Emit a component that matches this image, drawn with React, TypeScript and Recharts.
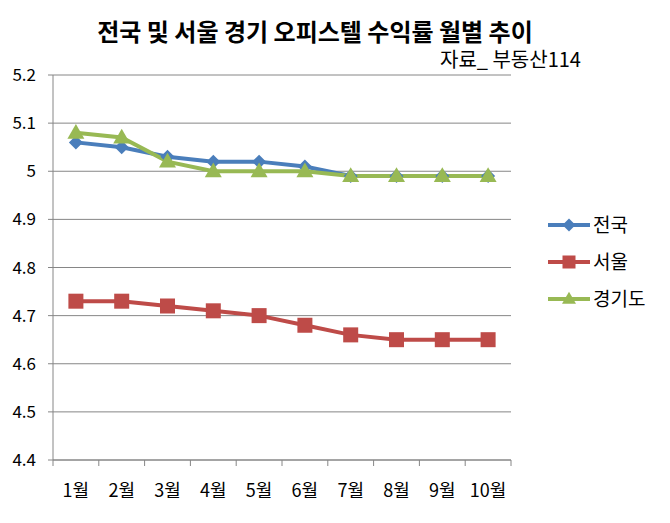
import { CartesianGrid, Line, LineChart, XAxis, YAxis } from "recharts";

const months = ["1월", "2월", "3월", "4월", "5월", "6월", "7월", "8월", "9월", "10월"];
const national = [5.06, 5.05, 5.03, 5.02, 5.02, 5.01, 4.99, 4.99, 4.99, 4.99];
const seoul = [4.73, 4.73, 4.72, 4.71, 4.70, 4.68, 4.66, 4.65, 4.65, 4.65];
const gyeonggi = [5.08, 5.07, 5.02, 5.0, 5.0, 5.0, 4.99, 4.99, 4.99, 4.99];
const yTicks = [4.4, 4.5, 4.6, 4.7, 4.8, 4.9, 5, 5.1, 5.2];

const BLUE = "#4A7EBB";
const RED = "#BE4B48";
const GREEN = "#98B954";
const FONT = "'Noto Sans CJK KR', 'Noto Sans', sans-serif";

const data = months.map((m, i) => ({ month: m, 전국: national[i], 서울: seoul[i], 경기도: gyeonggi[i] }));

const W = 670;
const H = 523;
const X_H = 30;
const M = { top: 75, right: 159, bottom: 63 - X_H, left: 0 };
const Y_W = 53;
const HALF_BAND = (W - M.left - M.right - Y_W) / months.length / 2;

// marker size is passed as "size" because recharts overrides "r" on dots
function Diamond({ cx, cy, fill, size = 14 }: any) {
  if (cx == null || cy == null) return null;
  const r = size / 2;
  return <path d={`M${cx},${cy - r}L${cx + r},${cy}L${cx},${cy + r}L${cx - r},${cy}Z`} fill={fill} />;
}
function Square({ cx, cy, fill, size = 15 }: any) {
  if (cx == null || cy == null) return null;
  return <rect x={cx - size / 2} y={cy - size / 2} width={size} height={size} fill={fill} />;
}
function Triangle({ cx, cy, fill, size = 17 }: any) {
  if (cx == null || cy == null) return null;
  const h = size * 0.87;
  return <path d={`M${cx},${cy - h * 0.6}L${cx + size / 2},${cy + h * 0.4}L${cx - size / 2},${cy + h * 0.4}Z`} fill={fill} />;
}

function MonthTick({ x, y, payload, index }: any) {
  const last = index === months.length - 1;
  return (
    <g>
      <line x1={x - HALF_BAND} x2={x - HALF_BAND} y1={y} y2={y + 6} stroke="#868686" />
      {last && <line x1={x + HALF_BAND} x2={x + HALF_BAND} y1={y} y2={y + 6} stroke="#868686" />}
      <text x={x} y={y + 37} textAnchor="middle" fontSize={18} fill="#000" fontFamily={FONT}>
        {payload.value}
      </text>
    </g>
  );
}

const legendItems = [
  { name: "전국", color: BLUE, Mark: Diamond, size: 13 },
  { name: "서울", color: RED, Mark: Square, size: 13 },
  { name: "경기도", color: GREEN, Mark: Triangle, size: 14 },
];

function LegendBox() {
  return (
    <svg width={130} height={110} style={{ position: "absolute", left: 540, top: 208 }}>
      {legendItems.map((it, i) => {
        const cy = 17 + i * 37;
        const Mk = it.Mark;
        return (
          <g key={it.name}>
            <line x1={8} x2={50} y1={cy} y2={cy} stroke={it.color} strokeWidth={4} />
            <Mk cx={29} cy={cy} fill={it.color} size={it.size} />
            <text x={53} y={cy + 7} fontSize={19} fill="#000" fontFamily={FONT}>
              {it.name}
            </text>
          </g>
        );
      })}
    </svg>
  );
}

export default function App() {
  return (
    <div style={{ position: "absolute", left: 0, top: 0, width: W, height: H, background: "#fff", fontFamily: FONT }}>
      <div style={{ position: "absolute", left: 0, top: 16, width: 630, textAlign: "center", fontSize: 24, fontWeight: "bold", lineHeight: "30px" }}>
        전국 및 서울 경기 오피스텔 수익률 월별 추이
      </div>
      <div style={{ position: "absolute", left: 440, top: 46, fontSize: 20, lineHeight: "26px", color: "#000" }}>
        자료_ 부동산114
      </div>
      <LineChart width={W} height={H} data={data} margin={M}>
        <CartesianGrid horizontal vertical={false} stroke="#868686" />
        <XAxis
          dataKey="month"
          height={X_H}
          tickLine={false}
          tickSize={0}
          tickMargin={0}
          stroke="#868686"
          tick={<MonthTick />}
          interval={0}
          padding={{ left: HALF_BAND, right: HALF_BAND }}
        />
        <YAxis
          domain={[4.4, 5.2]}
          ticks={yTicks}
          width={Y_W}
          stroke="#868686"
          tickSize={5}
          tickMargin={12}
          tick={{ fontSize: 17, fill: "#000", fontFamily: FONT }}
          tickFormatter={(v: number) => String(v)}
        />
        <Line dataKey="전국" stroke={BLUE} strokeWidth={4} dot={<Diamond fill={BLUE} />} isAnimationActive={false} />
        <Line dataKey="서울" stroke={RED} strokeWidth={4} dot={<Square fill={RED} />} isAnimationActive={false} />
        <Line dataKey="경기도" stroke={GREEN} strokeWidth={4} dot={<Triangle fill={GREEN} />} isAnimationActive={false} />
      </LineChart>
      <LegendBox />
    </div>
  );
}
